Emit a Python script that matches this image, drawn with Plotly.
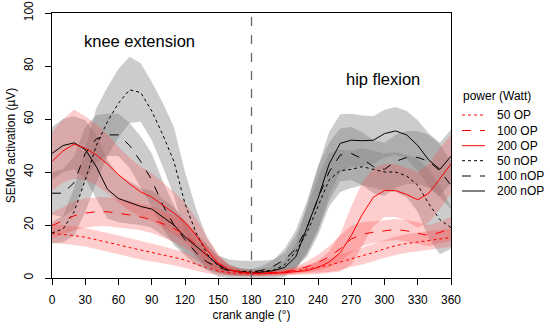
import plotly.graph_objects as go

# ---------------- data ----------------
angles = list(range(0, 361, 10))

op50_mean = [16.8, 16.5, 16, 15.4, 14.5, 13.5, 12.5, 11.5, 10.5, 9.7,
             8.7, 7.8, 6.8, 5.2, 3.8, 2.6, 2, 1.7, 1.5, 1.6,
             1.8, 2.2, 2.7, 3.4, 4.2, 4.8, 6, 7.2, 8.3, 9.6,
             11, 12.2, 13, 13.6, 14.3, 14.8, 15.3]
op50_sd = [3.5, 3.5, 3.5, 3.5, 3.5, 3.5, 3.5, 3.5, 3.5, 3.5,
           3.3, 3, 3, 2.5, 2, 1.5, 1, 0.8, 0.8, 0.8,
           0.9, 1, 1.2, 1.5, 2, 2.5, 3, 3, 3.2, 3.3,
           3.4, 3.5, 3.5, 3.5, 3.5, 3.5, 3.5]

op100_mean = [19.8, 21.5, 23.5, 24.5, 25, 25, 24.5, 23.8, 23, 22,
              20.5, 18.7, 16.3, 12.5, 8.5, 5.5, 3.2, 2.2, 1.8, 1.8,
              2, 2.4, 3, 4.2, 5.8, 8, 11, 14.7, 16.5, 17.3,
              17.8, 18.3, 17.8, 17, 16, 17.2, 18.5]
op100_sd = [5, 5.2, 5.5, 5.5, 5.5, 5.5, 5.5, 5.3, 5, 5,
            5, 5, 5, 4.5, 3.5, 2.5, 1.5, 1, 0.8, 0.8,
            0.9, 1, 1.3, 2, 3, 4, 5, 5, 4.5, 4,
            4, 4, 4, 4, 4, 4, 4.5]

op200_mean = [44, 48, 50.5, 49, 46.5, 43, 39, 35.5, 32.5, 30.5,
              27.5, 24.5, 21, 16, 10.5, 5.5, 3, 2.2, 1.8, 1.7,
              1.8, 2, 2.3, 2.8, 4, 6, 9.5, 16, 24, 30.5,
              33, 33, 31.5, 29.5, 32, 37.5, 43]
op200_sd = [11, 12, 13, 12, 11.5, 11, 10.5, 10, 9.5, 9,
            8.5, 8, 7.5, 6.5, 5, 3.5, 2, 1.2, 1, 1,
            1, 1, 1.2, 1.5, 2.5, 4, 7, 11, 12, 11,
            10, 10, 10, 10.5, 11, 11.5, 11]

nop50_mean = [17, 18.5, 25, 37, 50, 59, 66, 71, 70, 63,
              54, 44, 28, 17, 9, 4.5, 3, 2.5, 2.5, 2.5,
              3, 5, 10, 17, 27, 37, 40.5, 41, 42, 41,
              40, 40, 38.5, 35, 28, 22, 19]
nop50_sd = [4, 5, 9, 12, 14, 13, 13, 12.5, 11, 11,
            12, 13, 12, 9, 6, 4, 4, 4, 4, 4,
            4, 4.5, 6, 9, 11, 10, 8, 7, 7, 7,
            7, 7.5, 8, 10, 13, 13, 8]

nop100_mean = [32, 32, 36, 47, 52.5, 54, 54, 50, 44, 37,
               27.5, 20, 14.5, 9.5, 6, 4, 2.7, 2.3, 2.2, 3,
               4.5, 7, 11, 19, 30, 40, 46.4, 47, 45, 42,
               41, 44, 45.5, 45.5, 44, 40.5, 35]
nop100_sd = [8, 9, 10, 10, 9, 8, 8, 8.5, 9.5, 10,
             9, 7.5, 6, 4.5, 3, 2, 1.5, 1.2, 1.2, 1.5,
             2.5, 4, 7, 10, 12, 11, 10, 10, 10, 10,
             10, 10, 10, 10, 10, 10, 9]

nop200_mean = [47, 50, 51, 48.5, 42, 33.5, 30, 28.5, 27, 26,
               23, 20, 15.5, 12, 8.5, 5, 3, 2.2, 2, 2.2,
               2.8, 4, 8, 19, 30, 43, 50.8, 52, 51.8, 52,
               54.5, 55.5, 54, 50, 44.5, 41, 46]
nop200_sd = [10, 10, 10, 11, 12, 11, 9, 8, 7, 7,
             7, 6.5, 6, 5, 4, 3, 2, 1.5, 1.2, 1.2,
             1.5, 2.5, 5, 9, 12, 12, 11, 10, 9.5, 9,
             9, 9, 9, 9.5, 10, 10, 10]

series_names = ["50 OP", "100 OP", "200 OP", "50 nOP", "100 nOP", "200 nOP"]
x_ticks = list(range(0, 361, 30))
y_ticks = list(range(0, 101, 20))

# ---------------- styling ----------------
FONT = "Liberation Sans, Arial, sans-serif"
W, H = 550, 330
PL, PR, PT, PB = 52, 451, 13, 278   # plot area on screen (pixels)
ML, MT = PL, PT
MR = W - PR
MB = H - PB
GRAY_FILL = "rgba(128,128,128,0.40)"
RED_FILL = "rgba(250,70,70,0.27)"

series = {
    "50 OP": (op50_mean, op50_sd, "red", "dot", RED_FILL),
    "100 OP": (op100_mean, op100_sd, "red", "dash", RED_FILL),
    "200 OP": (op200_mean, op200_sd, "red", "solid", RED_FILL),
    "50 nOP": (nop50_mean, nop50_sd, "black", "dot", GRAY_FILL),
    "100 nOP": (nop100_mean, nop100_sd, "black", "dash", GRAY_FILL),
    "200 nOP": (nop200_mean, nop200_sd, "black", "solid", GRAY_FILL),
}


def px(x):
    return (x - PL) / (PR - PL)


def py(y):
    return (PB - y) / (PB - PT)


fig = go.Figure()

# bands: gray first, red on top
for name in ["50 nOP", "100 nOP", "200 nOP", "50 OP", "100 OP", "200 OP"]:
    m, s, col, dash, fill = series[name]
    upper = [a + b for a, b in zip(m, s)]
    lower = [max(a - b, 0) for a, b in zip(m, s)]
    fig.add_trace(go.Scatter(
        x=angles + angles[::-1], y=upper + lower[::-1],
        fill="toself", fillcolor=fill, line=dict(width=0),
        mode="lines", showlegend=False, hoverinfo="skip"))

# mean lines
for name in ["50 nOP", "100 nOP", "200 nOP", "50 OP", "100 OP", "200 OP"]:
    m, s, col, dash, fill = series[name]
    fig.add_trace(go.Scatter(
        x=angles, y=m, mode="lines", name=name,
        line=dict(color=col, width=1, dash=dash), showlegend=False))

# vertical dashed line at 180
fig.add_shape(type="line", x0=180, x1=180, y0=0, y1=100, xref="x", yref="y",
              line=dict(color="#666666", width=1.3, dash="dash"))

# phase annotations
fig.add_annotation(x=79, y=89.5, xref="x", yref="y", text="knee extension",
                   showarrow=False, font=dict(size=16.5, color="black", family=FONT))
fig.add_annotation(x=298.5, y=75, xref="x", yref="y", text="hip flexion",
                   showarrow=False, font=dict(size=16.5, color="black", family=FONT))

# manual legend
fig.add_annotation(x=px(462), y=py(96), xref="paper", yref="paper",
                   text="power (Watt)", showarrow=False, xanchor="left",
                   yanchor="middle", borderpad=0,
                   font=dict(size=12, color="black", family=FONT))
leg_y = [115, 130.5, 145.7, 160.7, 176, 191]
for name, ly in zip(series_names, leg_y):
    m, s, col, dash, fill = series[name]
    fig.add_shape(type="line", x0=px(462), x1=px(485), y0=py(ly), y1=py(ly),
                  xref="paper", yref="paper",
                  line=dict(color=col, width=1, dash=dash))
    fig.add_annotation(x=px(496), y=py(ly), xref="paper", yref="paper",
                       text=name, showarrow=False, xanchor="left",
                       yanchor="middle", borderpad=0,
                       font=dict(size=12, color="black", family=FONT))

fig.update_layout(
    width=W, height=H,
    margin=dict(l=ML, r=MR, t=MT, b=MB, pad=0, autoexpand=False),
    paper_bgcolor="white", plot_bgcolor="white",
    font=dict(family=FONT, size=12, color="black"),
    showlegend=False,
)
fig.update_xaxes(
    range=[0, 360], tickvals=x_ticks, ticktext=[str(v) for v in x_ticks],
    automargin=False, ticklabeloverflow="allow",
    showgrid=False, zeroline=False, showline=True, linecolor="black",
    linewidth=1, mirror=True, ticks="outside", ticklen=6, tickcolor="black",
    ticklabelstandoff=5, tickfont=dict(size=12, color="black"),
    title=dict(text="crank angle (°)", font=dict(size=12, color="black"),
               standoff=4),
)
fig.update_yaxes(
    range=[0, 100], tickvals=y_ticks, ticktext=[str(v) for v in y_ticks],
    automargin=False, ticklabeloverflow="allow",
    showgrid=False, zeroline=False, showline=True, linecolor="black",
    linewidth=1, mirror=True, ticks="outside", ticklen=6, tickcolor="black",
    tickangle=-90, ticklabelstandoff=7, tickfont=dict(size=12, color="black"),
    title=dict(text="SEMG activation (µV)", font=dict(size=12, color="black"),
               standoff=4),
)

# remove the browser's default 8px page margin so the 550x330 figure fills the window
fig.write_html("out.html",
               config={"displayModeBar": False},
               post_script="document.body.style.margin='0';"
                           "document.body.style.overflow='hidden';")
